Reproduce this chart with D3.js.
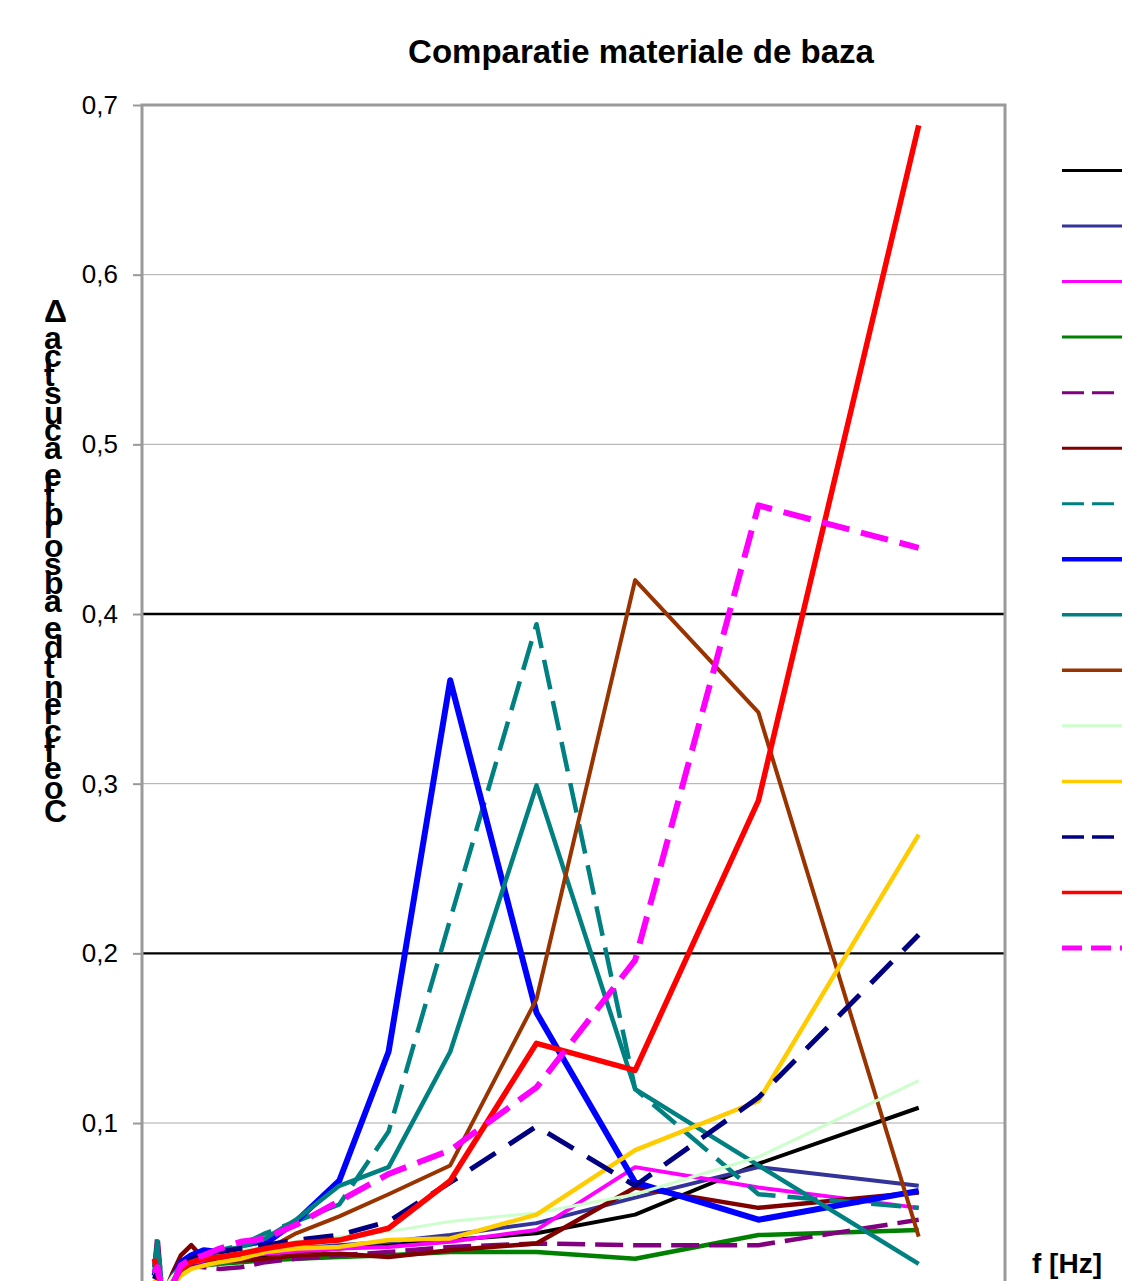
<!DOCTYPE html>
<html>
<head>
<meta charset="utf-8">
<script src="https://cdn.jsdelivr.net/npm/d3@7"></script>
<style>
  html, body { margin: 0; padding: 0; background: #fff; }
  svg { display: block; font-family: "Liberation Sans", Arial, sans-serif; }
</style>
</head>
<body>
<svg id="chart" width="1122" height="1281"></svg>
<script>
// Frequencies (Hz) at which every material was measured
const frequencies = [100, 125, 160, 200, 250, 315, 400, 500, 630, 800, 1000, 1250, 1600, 2000, 2500, 3200, 4000, 5000, 6300];

// Absorption coefficient per material
const serie01 = [0.012, 0.015, 0.004, 0.003, 0.005, 0.012, 0.015, 0.018, 0.019, 0.020, 0.022, 0.024, 0.026, 0.028, 0.031, 0.035, 0.046, 0.076, 0.109];
const serie02 = [0.010, 0.020, 0.003, 0.002, 0.006, 0.014, 0.018, 0.020, 0.021, 0.022, 0.024, 0.026, 0.028, 0.030, 0.034, 0.041, 0.056, 0.074, 0.063];
const serie03 = [0.015, 0.020, 0.004, 0.002, 0.008, 0.014, 0.017, 0.019, 0.020, 0.021, 0.023, 0.024, 0.026, 0.027, 0.030, 0.037, 0.074, 0.062, 0.050];
const serie04 = [0.010, 0.012, 0.003, 0.003, 0.006, 0.012, 0.015, 0.016, 0.017, 0.018, 0.019, 0.020, 0.021, 0.022, 0.024, 0.024, 0.020, 0.034, 0.037];
const serie05 = [0.015, 0.034, 0.004, 0.002, 0.010, 0.015, 0.016, 0.015, 0.014, 0.015, 0.018, 0.020, 0.022, 0.024, 0.027, 0.029, 0.028, 0.028, 0.043];
const serie06 = [0.012, 0.020, 0.003, 0.003, 0.012, 0.022, 0.028, 0.020, 0.019, 0.019, 0.020, 0.022, 0.023, 0.021, 0.025, 0.029, 0.062, 0.050, 0.059];
const serie07 = [0.015, 0.030, 0.005, 0.003, 0.010, 0.016, 0.020, 0.022, 0.025, 0.028, 0.035, 0.042, 0.052, 0.095, 0.220, 0.394, 0.120, 0.058, 0.050];
const serie08 = [0.010, 0.015, 0.004, 0.002, 0.008, 0.018, 0.022, 0.025, 0.024, 0.026, 0.029, 0.042, 0.066, 0.142, 0.361, 0.165, 0.065, 0.043, 0.060];
const serie09 = [0.012, 0.028, 0.004, 0.003, 0.010, 0.016, 0.020, 0.022, 0.024, 0.027, 0.032, 0.043, 0.063, 0.074, 0.142, 0.299, 0.120, 0.075, 0.017];
const serie10 = [0.010, 0.015, 0.003, 0.002, 0.008, 0.014, 0.018, 0.020, 0.021, 0.022, 0.025, 0.035, 0.045, 0.058, 0.075, 0.173, 0.420, 0.342, 0.033];
const serie11 = [0.012, 0.010, 0.008, 0.005, 0.010, 0.015, 0.018, 0.020, 0.022, 0.025, 0.028, 0.030, 0.033, 0.036, 0.042, 0.047, 0.058, 0.080, 0.125];
const serie12 = [0.008, 0.005, 0.003, 0.002, 0.004, 0.010, 0.014, 0.016, 0.018, 0.020, 0.024, 0.026, 0.027, 0.031, 0.032, 0.046, 0.084, 0.113, 0.270];
const serie13 = [0.008, 0.012, 0.003, 0.002, 0.006, 0.016, 0.020, 0.024, 0.024, 0.026, 0.028, 0.031, 0.034, 0.042, 0.065, 0.098, 0.063, 0.115, 0.211];
const serie14 = [0.020, 0.012, 0.003, 0.002, 0.006, 0.014, 0.018, 0.020, 0.021, 0.023, 0.026, 0.029, 0.031, 0.038, 0.066, 0.147, 0.131, 0.290, 0.688];
const serie15 = [0.012, 0.015, 0.003, 0.002, 0.005, 0.016, 0.020, 0.022, 0.026, 0.030, 0.032, 0.040, 0.054, 0.070, 0.084, 0.121, 0.196, 0.464, 0.439];

// Y axis tick values and their labels (decimal comma)
const yTicks = [0.1, 0.2, 0.3, 0.4, 0.5, 0.6, 0.7];
const yTickLabels = ["0,1", "0,2", "0,3", "0,4", "0,5", "0,6", "0,7"];

const titleText = "Comparatie materiale de baza";
const yLabelText = "Coeficient de absorbtie acustica \u0394";
const xLabelText = "f [Hz]";

// Line styling for each material, in legend order
const seriesValues = [serie01, serie02, serie03, serie04, serie05, serie06, serie07, serie08,
                      serie09, serie10, serie11, serie12, serie13, serie14, serie15];
const styles = [
  { color: "#000000", width: 4,   dash: null,    lw: 3,   ldash: null },
  { color: "#333399", width: 4,   dash: null,    lw: 3,   ldash: null },
  { color: "#FF00FF", width: 4,   dash: null,    lw: 3,   ldash: null },
  { color: "#008000", width: 4.5, dash: null,    lw: 3,   ldash: null },
  { color: "#800080", width: 4.5, dash: "28,10", lw: 3,   ldash: "22,8" },
  { color: "#800000", width: 4.5, dash: null,    lw: 3,   ldash: null },
  { color: "#008080", width: 4.5, dash: "30,12", lw: 3,   ldash: "22,8" },
  { color: "#0000FF", width: 6,   dash: null,    lw: 4.5, ldash: null },
  { color: "#008080", width: 4.5, dash: null,    lw: 3.5, ldash: null },
  { color: "#993300", width: 4,   dash: null,    lw: 3.5, ldash: null },
  { color: "#CCFFCC", width: 3,   dash: null,    lw: 3,   ldash: null },
  { color: "#FFCC00", width: 4.5, dash: null,    lw: 3.5, ldash: null },
  { color: "#000080", width: 5,   dash: "30,16", lw: 3.5, ldash: "22,8" },
  { color: "#FF0000", width: 5.5, dash: null,    lw: 3.5, ldash: null },
  { color: "#FF00FF", width: 6,   dash: "28,12", lw: 5,   ldash: "20,9" }
];

const svg = d3.select("#chart");
svg.append("rect").attr("width", 1122).attr("height", 1281).attr("fill", "#fff");

const plot = { left: 142, right: 1005, top: 105, bottom: 1292.7 };
const x = d3.scaleLinear().domain([0, 7000]).range([plot.left, plot.right]);
const y = d3.scaleLinear().domain([0, 0.7]).range([plot.bottom, plot.top]);

const isStrong = d => Math.abs(d - 0.2) < 1e-9 || Math.abs(d - 0.4) < 1e-9;

// Horizontal gridlines: 0,2 and 0,4 are emphasised in black
const grid = svg.append("g");
grid.selectAll("line")
  .data(yTicks.filter(v => v < 0.7))
  .join("line")
  .attr("x1", plot.left).attr("x2", plot.right)
  .attr("y1", d => y(d)).attr("y2", d => y(d))
  .attr("stroke", d => isStrong(d) ? "#000" : "#aaaaaa")
  .attr("stroke-width", d => isStrong(d) ? 2.4 : 1);

// Y axis built from the scale, labels with decimal comma
const yAxis = d3.axisLeft(y)
  .tickValues(yTicks)
  .tickSize(9)
  .tickPadding(15)
  .tickFormat((d, i) => yTickLabels[i]);
const yAxisG = svg.append("g").attr("transform", `translate(${plot.left},0)`).call(yAxis);
yAxisG.select(".domain").remove();
yAxisG.selectAll(".tick line").attr("stroke", "#999").attr("stroke-width", 2);
yAxisG.selectAll(".tick text")
  .attr("font-family", "'Liberation Sans', Arial, sans-serif")
  .attr("font-size", 26).attr("fill", "#000");

// Plot frame (left, top, right)
svg.append("path")
  .attr("d", `M${plot.left},${plot.bottom} V${plot.top} H${plot.right} V${plot.bottom}`)
  .attr("fill", "none").attr("stroke", "#9a9a9a").attr("stroke-width", 3);

// Series lines
const line = d3.line()
  .x((d, i) => x(frequencies[i]))
  .y(d => y(d));

const linesG = svg.append("g");
seriesValues.forEach((vals, k) => {
  const s = styles[k];
  linesG.append("path")
    .datum(vals)
    .attr("d", line)
    .attr("fill", "none")
    .attr("stroke", s.color)
    .attr("stroke-width", s.width)
    .attr("stroke-linejoin", "round")
    .attr("stroke-dasharray", s.dash);
});

// Legend keys on the right
const legendY = d3.scaleLinear().domain([0, 14]).range([170.5, 948]);
const legendG = svg.append("g");
styles.forEach((s, k) => {
  legendG.append("line")
    .attr("x1", 1062).attr("x2", 1140)
    .attr("y1", legendY(k)).attr("y2", legendY(k))
    .attr("stroke", s.color)
    .attr("stroke-width", s.lw)
    .attr("stroke-dasharray", s.ldash);
});

// Title
svg.append("text")
  .attr("x", 641).attr("y", 63)
  .attr("text-anchor", "middle")
  .attr("font-weight", "bold")
  .attr("font-size", 33)
  .text(titleText);

// Y label: upright glyphs stacked upward along the axis
svg.append("text")
  .attr("transform", "translate(44,822) rotate(-90)")
  .attr("rotate", 90)
  .attr("font-weight", "bold")
  .attr("font-size", 32)
  .text(yLabelText);

// X label
svg.append("text")
  .attr("x", 1032).attr("y", 1273)
  .attr("font-weight", "bold")
  .attr("font-size", 28)
  .text(xLabelText);
</script>
</body>
</html>
